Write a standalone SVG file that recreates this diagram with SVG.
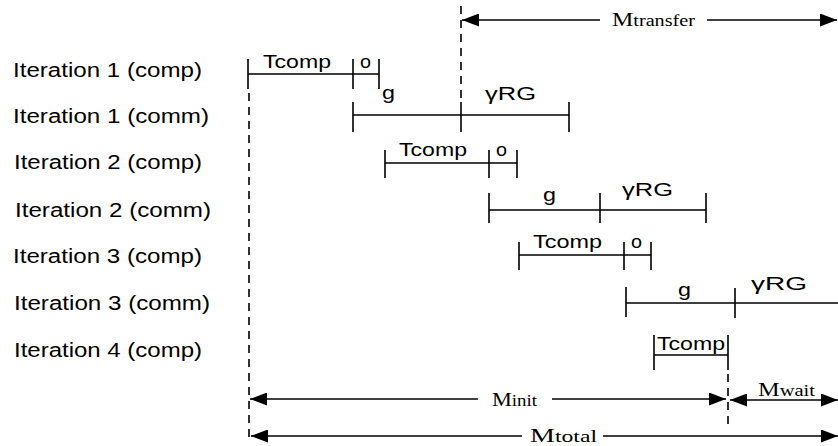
<svg xmlns="http://www.w3.org/2000/svg" width="838" height="446" viewBox="0 0 838 446">
<defs>
<marker id="ah" markerUnits="userSpaceOnUse" markerWidth="17" markerHeight="13" refX="17" refY="6.5" orient="auto-start-reverse"><path d="M0,0 L17,6.5 L0,13 z" fill="#000"/></marker>
<style>
.lbl{font-family:"Liberation Sans",Arial,sans-serif;font-size:19.5px;fill:#000}
.bl{font-family:"Liberation Sans",Arial,sans-serif;font-size:19px;fill:#000}
.ser{font-family:"Liberation Serif","Times New Roman",serif;fill:#000}
.big{font-size:19px}
.sub{font-size:16px}
.ln{stroke:#000;stroke-width:1.6;fill:none}
.dash{stroke:#000;stroke-width:1.6;fill:none;stroke-dasharray:8 6}
.arr{stroke:#000;stroke-width:1.6;fill:none;marker-end:url(#ah)}
</style>
</defs>
<rect width="838" height="446" fill="#fff"/>
<g id="labels">
<text class="lbl" x="13" y="77" textLength="189" lengthAdjust="spacingAndGlyphs">Iteration 1 (comp)</text>
<text class="lbl" x="13" y="123" textLength="196" lengthAdjust="spacingAndGlyphs">Iteration 1 (comm)</text>
<text class="lbl" x="14" y="169" textLength="188" lengthAdjust="spacingAndGlyphs">Iteration 2 (comp)</text>
<text class="lbl" x="15" y="217" textLength="196" lengthAdjust="spacingAndGlyphs">Iteration 2 (comm)</text>
<text class="lbl" x="13" y="263" textLength="189" lengthAdjust="spacingAndGlyphs">Iteration 3 (comp)</text>
<text class="lbl" x="14" y="310" textLength="196" lengthAdjust="spacingAndGlyphs">Iteration 3 (comm)</text>
<text class="lbl" x="14" y="357" textLength="188" lengthAdjust="spacingAndGlyphs">Iteration 4 (comp)</text>
</g>
<g id="it1comp">
<path class="ln" d="M248,74 H379 M248,59 V89 M353,59 V89 M379,59 V89"/>
<text class="bl" x="263" y="68" textLength="68" lengthAdjust="spacingAndGlyphs">Tcomp</text>
<text class="bl" x="360" y="68" textLength="11" lengthAdjust="spacingAndGlyphs">o</text>
</g>
<g id="it1comm">
<path class="ln" d="M353,115 H569 M353,102 V132 M461,102 V132 M569,102 V132"/>
<text class="bl" x="382" y="99" textLength="13" lengthAdjust="spacingAndGlyphs">g</text>
<text class="bl" x="485" y="100" textLength="51" lengthAdjust="spacingAndGlyphs">γRG</text>
</g>
<g id="it2comp">
<path class="ln" d="M385,163 H517 M385,150 V178 M489,150 V178 M517,150 V178"/>
<text class="bl" x="399" y="156" textLength="68" lengthAdjust="spacingAndGlyphs">Tcomp</text>
<text class="bl" x="496" y="156" textLength="11" lengthAdjust="spacingAndGlyphs">o</text>
</g>
<g id="it2comm">
<path class="ln" d="M489,210 H706 M489,193 V223 M600,193 V223 M706,193 V223"/>
<text class="bl" x="543" y="201" textLength="13" lengthAdjust="spacingAndGlyphs">g</text>
<text class="bl" x="622" y="196" textLength="51" lengthAdjust="spacingAndGlyphs">γRG</text>
</g>
<g id="it3comp">
<path class="ln" d="M519,255 H651 M519,242 V270 M624,242 V270 M651,242 V270"/>
<text class="bl" x="533" y="248" textLength="69" lengthAdjust="spacingAndGlyphs">Tcomp</text>
<text class="bl" x="631" y="248" textLength="11" lengthAdjust="spacingAndGlyphs">o</text>
</g>
<g id="it3comm">
<path class="ln" d="M626,303 H838 M626,287 V317 M735,288 V318"/>
<text class="bl" x="678" y="296" textLength="13" lengthAdjust="spacingAndGlyphs">g</text>
<text class="bl" x="751" y="290" textLength="56" lengthAdjust="spacingAndGlyphs">γRG</text>
</g>
<g id="it4comp">
<path class="ln" d="M654,355 H728 M654,335 V370 M728,335 V370"/>
<text class="bl" x="657" y="350" textLength="68" lengthAdjust="spacingAndGlyphs">Tcomp</text>
</g>
<g id="connectors">
<path class="dash" d="M249,93 V440"/>
<path class="dash" d="M461,6 V102"/>
<path class="dash" d="M728,374 V424"/>
<line class="arr" x1="600" y1="20" x2="462" y2="20"/>
<line class="arr" x1="707" y1="20" x2="837" y2="20"/>
<line class="arr" x1="478" y1="399" x2="250" y2="399"/>
<line class="arr" x1="552" y1="399" x2="726" y2="399"/>
<line class="arr" x1="784" y1="400" x2="730" y2="400"/>
<line class="arr" x1="784" y1="400" x2="838" y2="400"/>
<line class="arr" x1="522" y1="436" x2="251" y2="436"/>
<line class="arr" x1="603" y1="436" x2="838" y2="436"/>
</g>
<g id="measures">
<text class="ser" x="612" y="26" textLength="83" lengthAdjust="spacingAndGlyphs"><tspan class="big">M</tspan><tspan class="sub">transfer</tspan></text>
<text class="ser" x="492" y="406" textLength="45" lengthAdjust="spacingAndGlyphs"><tspan class="big">M</tspan><tspan class="sub">init</tspan></text>
<text class="ser" x="758" y="396" textLength="57" lengthAdjust="spacingAndGlyphs"><tspan class="big">M</tspan><tspan class="sub">wait</tspan></text>
<text class="ser" x="530" y="442" textLength="67" lengthAdjust="spacingAndGlyphs"><tspan class="big">M</tspan><tspan class="sub">total</tspan></text>
</g>
</svg>
